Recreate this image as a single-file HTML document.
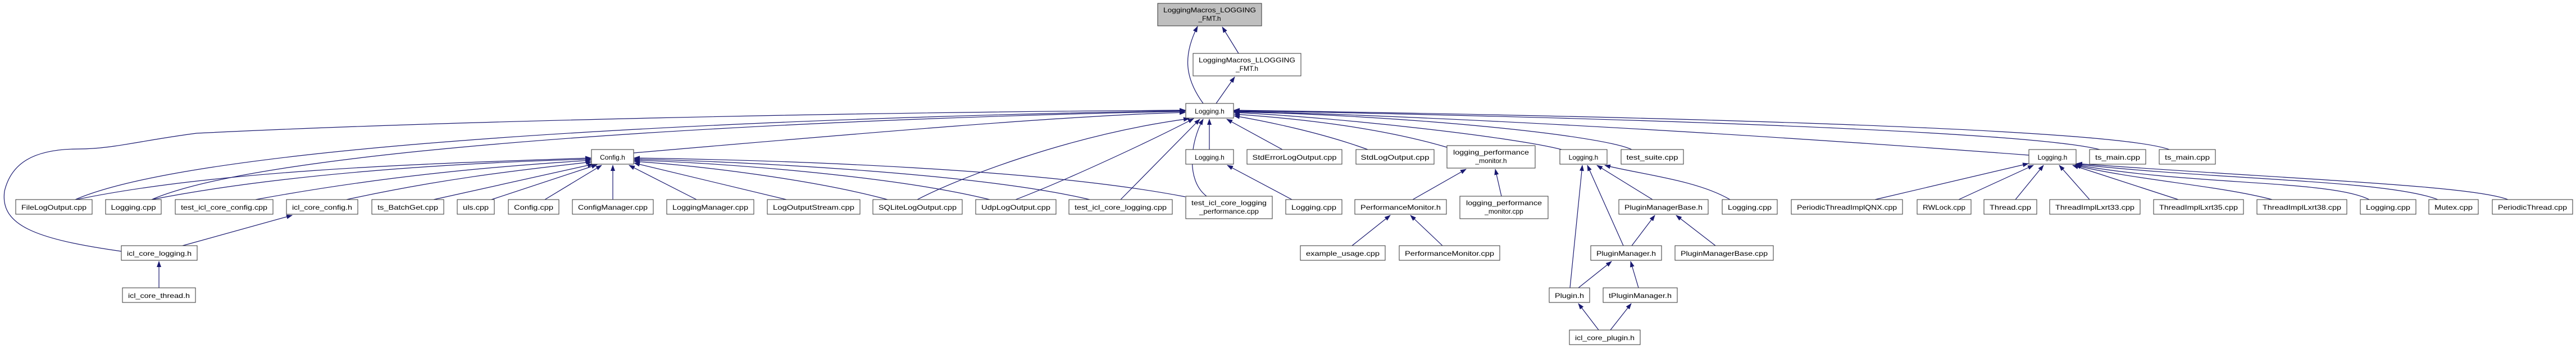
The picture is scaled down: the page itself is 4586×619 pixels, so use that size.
<!DOCTYPE html>
<html><head><meta charset="utf-8"><style>
html,body{margin:0;padding:0;background:#fff;}
svg{display:block;}
text{font-family:"Liberation Sans","DejaVu Sans",sans-serif;font-size:12px;fill:#000;}
.e{fill:none;stroke:#191970;stroke-width:1.2;marker-end:url(#a);}
.n{fill:#fff;stroke:#333;stroke-width:1;}
</style></head><body>
<svg width="4586" height="619" viewBox="0 0 4586 619" xmlns="http://www.w3.org/2000/svg">
<defs><marker id="a" markerUnits="userSpaceOnUse" markerWidth="11" markerHeight="8" refX="10" refY="4" orient="auto"><path d="M0,0 L11,4 L0,8 z" fill="#191970"/></marker></defs>
<g>
<path class="e" d="M2205,95 L2176,48"/>
<path class="e" d="M2142,184 C2110,140 2105,100 2132,47"/>
<path class="e" d="M2165,184 L2198,137"/>
<path class="e" d="M1128,272 C1500,240 1900,205 2110,200"/>
<path class="e" d="M134,355 C400,240 1600,205 2110,197"/>
<path class="e" d="M270,355 C500,255 1500,210 2110,198"/>
<path class="e" d="M216,447 C60,425 0,400 8,340 C20,290 60,265 140,265 C200,265 250,250 350,237 C800,215 1500,200 2110,196"/>
<path class="e" d="M1633,355 C1700,320 1900,240 2117,211"/>
<path class="e" d="M1808,355 C1900,320 2050,250 2125,211"/>
<path class="e" d="M1995,355 L2136,212"/>
<path class="e" d="M2148,349 C2110,320 2120,250 2142,212"/>
<path class="e" d="M2153,266 L2153,212"/>
<path class="e" d="M2283,266 L2184,212"/>
<path class="e" d="M2435,266 C2350,235 2250,215 2197,206"/>
<path class="e" d="M2576,262 C2450,225 2300,210 2197,203"/>
<path class="e" d="M2780,266 C2700,245 2400,210 2197,200"/>
<path class="e" d="M2905,266 C2850,240 2500,205 2197,199"/>
<path class="e" d="M3612,276 C3000,230 2500,205 2197,198"/>
<path class="e" d="M3738,266 C3600,230 2700,205 2197,197"/>
<path class="e" d="M3862,266 C3750,225 2800,205 2197,196"/>
<path class="e" d="M136,355 C400,300 800,290 1052,281"/>
<path class="e" d="M270,355 C500,310 800,290 1052,283"/>
<path class="e" d="M455,355 C700,310 900,295 1052,285"/>
<path class="e" d="M617,355 C800,315 950,300 1053,288"/>
<path class="e" d="M772,355 L1056,292"/>
<path class="e" d="M875,355 L1063,293"/>
<path class="e" d="M970,355 L1071,294"/>
<path class="e" d="M1091,355 L1091,294"/>
<path class="e" d="M1240,355 L1120,294"/>
<path class="e" d="M1400,355 L1129,290"/>
<path class="e" d="M1580,355 C1450,320 1250,295 1129,287"/>
<path class="e" d="M1762,355 C1600,315 1300,290 1129,285"/>
<path class="e" d="M1940,355 C1750,310 1350,288 1129,283"/>
<path class="e" d="M2110,350 C1850,300 1400,285 1129,281"/>
<path class="e" d="M325,437 L520,383"/>
<path class="e" d="M283,512 L283,465"/>
<path class="e" d="M2300,355 L2185,294"/>
<path class="e" d="M2515,355 L2610,301"/>
<path class="e" d="M2673,349 L2662,301"/>
<path class="e" d="M2407,437 L2475,383"/>
<path class="e" d="M2568,437 L2511,383"/>
<path class="e" d="M2795,512 L2817,294"/>
<path class="e" d="M2890,437 L2826,294"/>
<path class="e" d="M2942,355 L2843,294"/>
<path class="e" d="M3080,355 C3020,320 2920,310 2857,294"/>
<path class="e" d="M2905,437 L2946,383"/>
<path class="e" d="M3054,437 L2984,383"/>
<path class="e" d="M2810,512 L2869,465"/>
<path class="e" d="M2917,512 L2903,465"/>
<path class="e" d="M2846,587 L2810,540"/>
<path class="e" d="M2867,587 L2904,540"/>
<path class="e" d="M3338,355 L3611,291"/>
<path class="e" d="M3487,355 L3620,294"/>
<path class="e" d="M3588,355 L3638,294"/>
<path class="e" d="M3720,355 L3666,294"/>
<path class="e" d="M3878,355 L3690,294"/>
<path class="e" d="M4045,355 C3950,330 3800,320 3694,294"/>
<path class="e" d="M4218,355 C4150,320 3900,330 3695,293"/>
<path class="e" d="M4340,355 C4250,320 3950,320 3696,292"/>
<path class="e" d="M4465,355 C4400,330 4100,320 3697,291"/>
</g>
<g>
<rect x="2061" y="6" width="185" height="40" fill="#bfbfbf" stroke="#333"/>
<text x="2153.5" y="22" text-anchor="middle" textLength="165" lengthAdjust="spacingAndGlyphs">LoggingMacros_LOGGING</text>
<text x="2153.5" y="37" text-anchor="middle">_FMT.h</text>
<rect class="n" x="2124" y="95" width="192" height="40"/>
<text x="2220" y="111" text-anchor="middle" textLength="172" lengthAdjust="spacingAndGlyphs">LoggingMacros_LLOGGING</text>
<text x="2220" y="126" text-anchor="middle">_FMT.h</text>
<rect class="n" x="2111" y="184" width="85" height="26"/>
<text x="2153.5" y="202" text-anchor="middle">Logging.h</text>

<rect class="n" x="1053" y="266" width="75" height="26"/><text x="1090.5" y="284" text-anchor="middle">Config.h</text>
<rect class="n" x="2111" y="266" width="85" height="26"/><text x="2153.5" y="284" text-anchor="middle">Logging.h</text>
<rect class="n" x="2220" y="266" width="169" height="26"/><text x="2304.5" y="284" text-anchor="middle" textLength="150" lengthAdjust="spacingAndGlyphs">StdErrorLogOutput.cpp</text>
<rect class="n" x="2414" y="266" width="139" height="26"/><text x="2483.5" y="284" text-anchor="middle" textLength="122" lengthAdjust="spacingAndGlyphs">StdLogOutput.cpp</text>
<rect class="n" x="2576" y="259" width="157" height="40"/><text x="2654.5" y="275" text-anchor="middle" textLength="135" lengthAdjust="spacingAndGlyphs">logging_performance</text><text x="2654.5" y="290" text-anchor="middle">_monitor.h</text>
<rect class="n" x="2777" y="266" width="84" height="26"/><text x="2819" y="284" text-anchor="middle">Logging.h</text>
<rect class="n" x="2886" y="266" width="111" height="26"/><text x="2941.5" y="284" text-anchor="middle" textLength="92" lengthAdjust="spacingAndGlyphs">test_suite.cpp</text>
<rect class="n" x="3612" y="266" width="84" height="26"/><text x="3654" y="284" text-anchor="middle">Logging.h</text>
<rect class="n" x="3720" y="266" width="100" height="26"/><text x="3770" y="284" text-anchor="middle" textLength="80" lengthAdjust="spacingAndGlyphs">ts_main.cpp</text>
<rect class="n" x="3844" y="266" width="100" height="26"/><text x="3894" y="284" text-anchor="middle" textLength="80" lengthAdjust="spacingAndGlyphs">ts_main.cpp</text>

<rect class="n" x="28" y="355" width="136" height="26"/><text x="96" y="373" text-anchor="middle" textLength="116" lengthAdjust="spacingAndGlyphs">FileLogOutput.cpp</text>
<rect class="n" x="188" y="355" width="99" height="26"/><text x="237.5" y="373" text-anchor="middle" textLength="80" lengthAdjust="spacingAndGlyphs">Logging.cpp</text>
<rect class="n" x="312" y="355" width="174" height="26"/><text x="399" y="373" text-anchor="middle" textLength="154" lengthAdjust="spacingAndGlyphs">test_icl_core_config.cpp</text>
<rect class="n" x="510" y="355" width="127" height="26"/><text x="573.5" y="373" text-anchor="middle" textLength="107" lengthAdjust="spacingAndGlyphs">icl_core_config.h</text>
<rect class="n" x="662" y="355" width="128" height="26"/><text x="726" y="373" text-anchor="middle" textLength="108" lengthAdjust="spacingAndGlyphs">ts_BatchGet.cpp</text>
<rect class="n" x="814" y="355" width="66" height="26"/><text x="847" y="373" text-anchor="middle" textLength="46" lengthAdjust="spacingAndGlyphs">uls.cpp</text>
<rect class="n" x="905" y="355" width="90" height="26"/><text x="950" y="373" text-anchor="middle" textLength="70" lengthAdjust="spacingAndGlyphs">Config.cpp</text>
<rect class="n" x="1019" y="355" width="144" height="26"/><text x="1091" y="373" text-anchor="middle" textLength="124" lengthAdjust="spacingAndGlyphs">ConfigManager.cpp</text>
<rect class="n" x="1187" y="355" width="155" height="26"/><text x="1264.5" y="373" text-anchor="middle" textLength="135" lengthAdjust="spacingAndGlyphs">LoggingManager.cpp</text>
<rect class="n" x="1366" y="355" width="165" height="26"/><text x="1448.5" y="373" text-anchor="middle" textLength="145" lengthAdjust="spacingAndGlyphs">LogOutputStream.cpp</text>
<rect class="n" x="1554" y="355" width="159" height="26"/><text x="1633.5" y="373" text-anchor="middle" textLength="139" lengthAdjust="spacingAndGlyphs">SQLiteLogOutput.cpp</text>
<rect class="n" x="1737" y="355" width="143" height="26"/><text x="1808.5" y="373" text-anchor="middle" textLength="123" lengthAdjust="spacingAndGlyphs">UdpLogOutput.cpp</text>
<rect class="n" x="1903" y="355" width="184" height="26"/><text x="1995" y="373" text-anchor="middle" textLength="164" lengthAdjust="spacingAndGlyphs">test_icl_core_logging.cpp</text>
<rect class="n" x="2111" y="349" width="154" height="40"/><text x="2188" y="365" text-anchor="middle" textLength="134" lengthAdjust="spacingAndGlyphs">test_icl_core_logging</text><text x="2188" y="380" text-anchor="middle" textLength="106" lengthAdjust="spacingAndGlyphs">_performance.cpp</text>
<rect class="n" x="2289" y="355" width="100" height="26"/><text x="2339" y="373" text-anchor="middle" textLength="80" lengthAdjust="spacingAndGlyphs">Logging.cpp</text>
<rect class="n" x="2412" y="355" width="163" height="26"/><text x="2493.5" y="373" text-anchor="middle" textLength="143" lengthAdjust="spacingAndGlyphs">PerformanceMonitor.h</text>
<rect class="n" x="2599" y="349" width="157" height="40"/><text x="2677.5" y="365" text-anchor="middle" textLength="135" lengthAdjust="spacingAndGlyphs">logging_performance</text><text x="2677.5" y="380" text-anchor="middle">_monitor.cpp</text>
<rect class="n" x="2882" y="355" width="159" height="26"/><text x="2961.5" y="373" text-anchor="middle" textLength="139" lengthAdjust="spacingAndGlyphs">PluginManagerBase.h</text>
<rect class="n" x="3066" y="355" width="98" height="26"/><text x="3115" y="373" text-anchor="middle" textLength="78" lengthAdjust="spacingAndGlyphs">Logging.cpp</text>
<rect class="n" x="3189" y="355" width="198" height="26"/><text x="3288" y="373" text-anchor="middle" textLength="178" lengthAdjust="spacingAndGlyphs">PeriodicThreadImplQNX.cpp</text>
<rect class="n" x="3413" y="355" width="96" height="26"/><text x="3461" y="373" text-anchor="middle" textLength="76" lengthAdjust="spacingAndGlyphs">RWLock.cpp</text>
<rect class="n" x="3532" y="355" width="94" height="26"/><text x="3579" y="373" text-anchor="middle" textLength="74" lengthAdjust="spacingAndGlyphs">Thread.cpp</text>
<rect class="n" x="3649" y="355" width="161" height="26"/><text x="3729.5" y="373" text-anchor="middle" textLength="141" lengthAdjust="spacingAndGlyphs">ThreadImplLxrt33.cpp</text>
<rect class="n" x="3834" y="355" width="160" height="26"/><text x="3914" y="373" text-anchor="middle" textLength="140" lengthAdjust="spacingAndGlyphs">ThreadImplLxrt35.cpp</text>
<rect class="n" x="4018" y="355" width="160" height="26"/><text x="4098" y="373" text-anchor="middle" textLength="140" lengthAdjust="spacingAndGlyphs">ThreadImplLxrt38.cpp</text>
<rect class="n" x="4202" y="355" width="99" height="26"/><text x="4251.5" y="373" text-anchor="middle" textLength="79" lengthAdjust="spacingAndGlyphs">Logging.cpp</text>
<rect class="n" x="4324" y="355" width="88" height="26"/><text x="4368" y="373" text-anchor="middle" textLength="68" lengthAdjust="spacingAndGlyphs">Mutex.cpp</text>
<rect class="n" x="4437" y="355" width="143" height="26"/><text x="4508.5" y="373" text-anchor="middle" textLength="123" lengthAdjust="spacingAndGlyphs">PeriodicThread.cpp</text>

<rect class="n" x="216" y="437" width="135" height="26"/><text x="283.5" y="455" text-anchor="middle" textLength="115" lengthAdjust="spacingAndGlyphs">icl_core_logging.h</text>
<rect class="n" x="2315" y="437" width="151" height="26"/><text x="2390.5" y="455" text-anchor="middle" textLength="131" lengthAdjust="spacingAndGlyphs">example_usage.cpp</text>
<rect class="n" x="2491" y="437" width="179" height="26"/><text x="2580.5" y="455" text-anchor="middle" textLength="159" lengthAdjust="spacingAndGlyphs">PerformanceMonitor.cpp</text>
<rect class="n" x="2832" y="437" width="126" height="26"/><text x="2895" y="455" text-anchor="middle" textLength="106" lengthAdjust="spacingAndGlyphs">PluginManager.h</text>
<rect class="n" x="2982" y="437" width="175" height="26"/><text x="3069.5" y="455" text-anchor="middle" textLength="155" lengthAdjust="spacingAndGlyphs">PluginManagerBase.cpp</text>

<rect class="n" x="218" y="512" width="130" height="26"/><text x="283" y="530" text-anchor="middle" textLength="110" lengthAdjust="spacingAndGlyphs">icl_core_thread.h</text>
<rect class="n" x="2758" y="512" width="72" height="26"/><text x="2794" y="530" text-anchor="middle" textLength="52" lengthAdjust="spacingAndGlyphs">Plugin.h</text>
<rect class="n" x="2854" y="512" width="132" height="26"/><text x="2920" y="530" text-anchor="middle" textLength="112" lengthAdjust="spacingAndGlyphs">tPluginManager.h</text>
<rect class="n" x="2794" y="587" width="126" height="26"/><text x="2857" y="605" text-anchor="middle" textLength="106" lengthAdjust="spacingAndGlyphs">icl_core_plugin.h</text>
</g>
</svg>
</body></html>
